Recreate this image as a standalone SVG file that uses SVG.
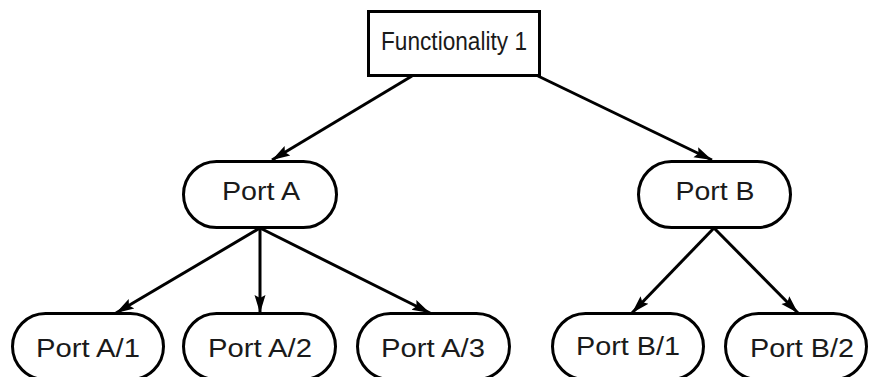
<svg xmlns="http://www.w3.org/2000/svg" width="870" height="377" viewBox="0 0 870 377">
  <style>
    .box { fill: #ffffff; stroke: #000000; stroke-width: 3; }
    .lbl { font-family: "Liberation Sans", Arial, Helvetica, sans-serif; font-size: 26px; fill: #1a1a1a; text-anchor: middle; dominant-baseline: central; }
    .top { font-size: 25px; }
    .edge { fill: none; stroke: #000000; stroke-width: 3; marker-end: url(#arrow); }
  </style>
  <defs>
    <marker id="arrow" markerUnits="userSpaceOnUse" markerWidth="20" markerHeight="14" refX="18" refY="7" orient="auto">
      <path d="M0,1.5 L18,7 L0,12.5 L3,7 Z" fill="#000000"/>
    </marker>
  </defs>
  <rect width="870" height="377" fill="#ffffff"/>

  <g id="connectors">
    <line class="edge" x1="412" y1="76" x2="272" y2="160"/>
    <line class="edge" x1="538" y1="76" x2="712" y2="160"/>
    <line class="edge" x1="260" y1="228" x2="116" y2="313"/>
    <line class="edge" x1="260" y1="228" x2="260" y2="313"/>
    <line class="edge" x1="260" y1="228" x2="430" y2="313"/>
    <line class="edge" x1="714" y1="228" x2="632" y2="313"/>
    <line class="edge" x1="714" y1="228" x2="798" y2="313"/>
  </g>

  <g id="functionality-1">
    <rect class="box" x="368.5" y="11.5" width="171" height="64"/>
    <text class="lbl top" x="454" y="41" textLength="146" lengthAdjust="spacingAndGlyphs">Functionality 1</text>
  </g>
  <g id="port-a">
    <rect class="box" x="183.5" y="161.5" width="153" height="66" rx="33" ry="33"/>
    <text class="lbl" x="261" y="191" textLength="78" lengthAdjust="spacingAndGlyphs">Port A</text>
  </g>
  <g id="port-b">
    <rect class="box" x="638.5" y="161.5" width="152" height="66" rx="33" ry="33"/>
    <text class="lbl" x="715" y="191" textLength="79" lengthAdjust="spacingAndGlyphs">Port B</text>
  </g>
  <g id="port-a-1">
    <rect class="box" x="12.5" y="313.5" width="151" height="66" rx="33" ry="33"/>
    <text class="lbl" x="88" y="348" textLength="104" lengthAdjust="spacingAndGlyphs">Port A/1</text>
  </g>
  <g id="port-a-2">
    <rect class="box" x="183.5" y="313.5" width="152" height="66" rx="33" ry="33"/>
    <text class="lbl" x="260" y="348" textLength="104" lengthAdjust="spacingAndGlyphs">Port A/2</text>
  </g>
  <g id="port-a-3">
    <rect class="box" x="357.5" y="313.5" width="152" height="66" rx="33" ry="33"/>
    <text class="lbl" x="433" y="348" textLength="104" lengthAdjust="spacingAndGlyphs">Port A/3</text>
  </g>
  <g id="port-b-1">
    <rect class="box" x="552.5" y="313.5" width="151" height="66" rx="33" ry="33"/>
    <text class="lbl" x="628" y="346" textLength="104" lengthAdjust="spacingAndGlyphs">Port B/1</text>
  </g>
  <g id="port-b-2">
    <rect class="box" x="725.5" y="313.5" width="141" height="66" rx="33" ry="33"/>
    <text class="lbl" x="802" y="348" textLength="104" lengthAdjust="spacingAndGlyphs">Port B/2</text>
  </g>
</svg>
